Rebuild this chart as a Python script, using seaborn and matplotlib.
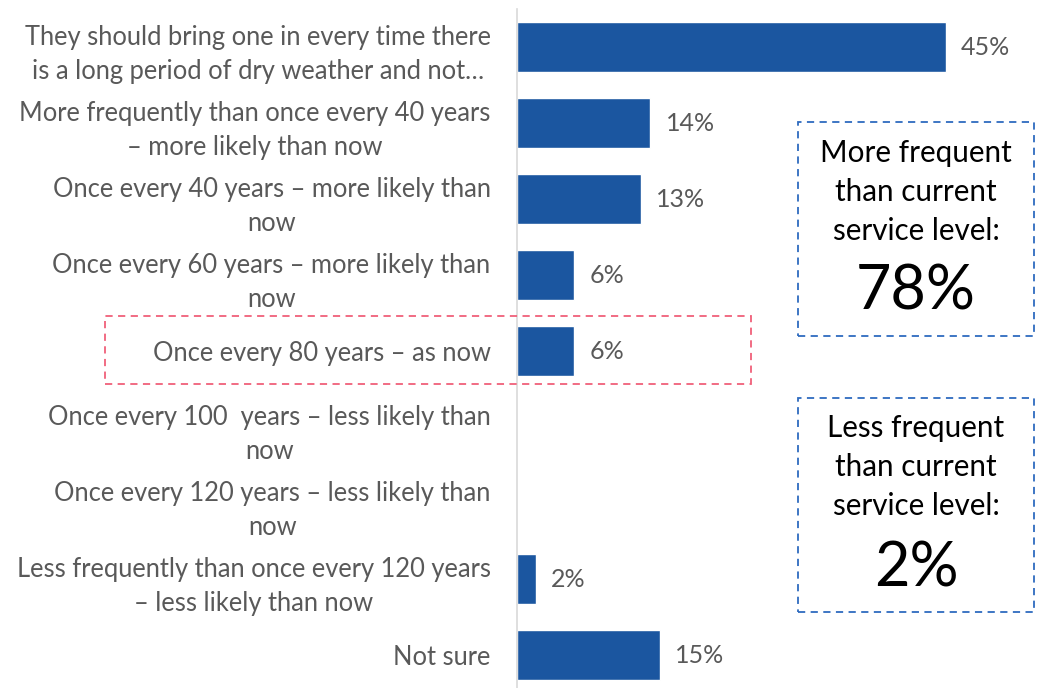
import numpy as np
import pandas as pd
import seaborn as sns
import matplotlib.pyplot as plt
from matplotlib.patches import Rectangle

# 数据
labels = [
    "They should bring one in every time there\nis a long period of dry weather and not…",
    "More frequently than once every 40 years\n– more likely than now",
    "Once every 40 years – more likely than\nnow",
    "Once every 60 years – more likely than\nnow",
    "Once every 80 years – as now",
    "Once every 100  years – less likely than\nnow",
    "Once every 120 years – less likely than\nnow",
    "Less frequently than once every 120 years\n– less likely than now",
    "Not sure",
]
values = [45, 14, 13, 6, 6, np.nan, np.nan, 2, 15]
more_text = "More frequent\nthan current\nservice level:"
more_pct = "78%"
less_text = "Less frequent\nthan current\nservice level:"
less_pct = "2%"

df = pd.DataFrame({"label": labels, "value": values})

sns.set_style("white")
plt.rcParams['font.family'] = ['Lato', 'DejaVu Sans']

W, H = 1038, 688
fig = plt.figure(figsize=(W / 100, H / 100), dpi=100)
ax = fig.add_axes([517 / W, 0, 476.5 / W, 679 / H])

sns.barplot(data=df, x="value", y="label", order=labels, orient="h",
            color="#1B56A0", saturation=1, width=0.66, ax=ax)

ax.set_xlim(0, 50)
ax.set_ylim(8.434, -0.5)
ax.set_xlabel("")
ax.set_ylabel("")
ax.set_xticks([])
for s in ["top", "right", "bottom"]:
    ax.spines[s].set_visible(False)
ax.spines["left"].set_color("#D9D9D9")
ax.spines["left"].set_linewidth(1.2)

ax.tick_params(axis="y", length=0, pad=19)
for t in ax.get_yticklabels():
    t.set_fontsize(18.4)
    t.set_color("#595959")
    t.set_multialignment("center")
    t.set_linespacing(1.46)

for i, v in enumerate(values):
    if np.isnan(v):
        continue
    ax.annotate(f"{v:.0f}%", (v, i), xytext=(11, 0), textcoords="offset points",
                va="center", ha="left", fontsize=18, color="#595959")

# 虚线框
def fig_box(x0, y0, x1, y1, color):
    fig.patches.append(Rectangle((x0 / W, 1 - y1 / H), (x1 - x0) / W, (y1 - y0) / H,
                                 transform=fig.transFigure, fill=False,
                                 edgecolor=color, linestyle=(0, (4, 3)), linewidth=1.3))

fig_box(105, 316, 751, 384, "#F0607A")
fig_box(798, 122, 1034, 336, "#2E6BBF")
fig_box(798, 398, 1034, 612, "#2E6BBF")

fig.text(916 / W, 1 - 192 / H, more_text, ha="center", va="center",
         fontsize=21.3, linespacing=1.47, color="black")
fig.text(916 / W, 1 - 292 / H, more_pct, ha="center", va="center",
         fontsize=44, color="black")
fig.text(916 / W, 1 - 467 / H, less_text, ha="center", va="center",
         fontsize=21.3, linespacing=1.47, color="black")
fig.text(916 / W, 1 - 569 / H, less_pct, ha="center", va="center",
         fontsize=44, color="black")

fig.savefig("out.png", dpi=100)
